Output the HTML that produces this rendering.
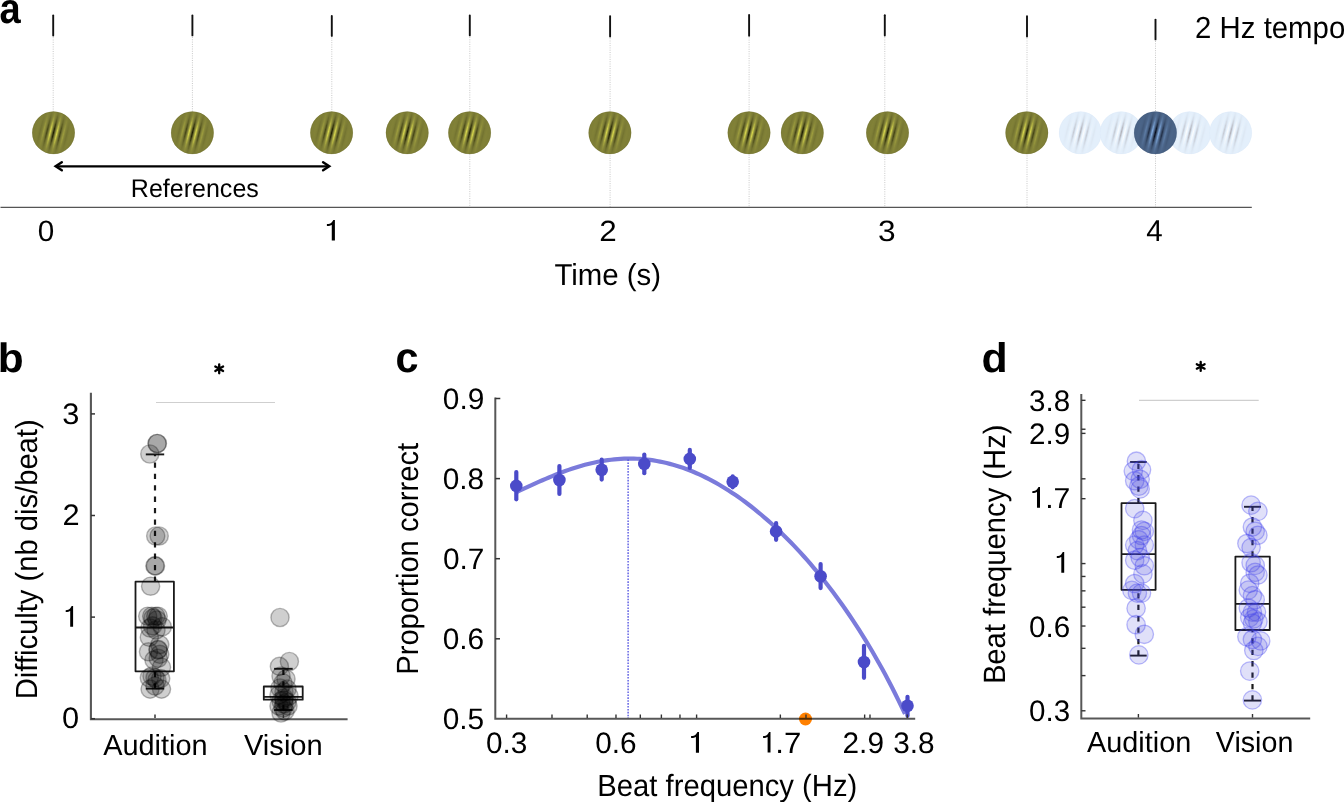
<!DOCTYPE html>
<html><head><meta charset="utf-8"><title>Figure</title>
<style>
html,body{margin:0;padding:0;background:#fff;}
body{width:1344px;height:802px;overflow:hidden;}
svg{display:block;font-family:"Liberation Sans", sans-serif;}
text{opacity:0.999;text-rendering:geometricPrecision;}
</style></head>
<body>
<svg width="1344" height="802" viewBox="0 0 1344 802">
<rect width="1344" height="802" fill="#fff"/>

<defs>
 <linearGradient id="stO" gradientUnits="userSpaceOnUse" x1="0" y1="0" x2="6.7" y2="0" spreadMethod="repeat" gradientTransform="rotate(14)">
  <stop offset="0" stop-color="#1a1a00"/><stop offset="0.25" stop-color="#808038"/><stop offset="0.5" stop-color="#e6e650"/><stop offset="0.75" stop-color="#808038"/><stop offset="1" stop-color="#1a1a00"/>
 </linearGradient>
 <linearGradient id="stB" gradientUnits="userSpaceOnUse" x1="0" y1="0" x2="6.7" y2="0" spreadMethod="repeat" gradientTransform="rotate(14)">
  <stop offset="0" stop-color="#050a18"/><stop offset="0.25" stop-color="#4b6487"/><stop offset="0.5" stop-color="#8ab8f0"/><stop offset="0.75" stop-color="#4b6487"/><stop offset="1" stop-color="#050a18"/>
 </linearGradient>
 <linearGradient id="stL" gradientUnits="userSpaceOnUse" x1="0" y1="0" x2="6.7" y2="0" spreadMethod="repeat" gradientTransform="rotate(14)">
  <stop offset="0" stop-color="#b0b0b8"/><stop offset="0.25" stop-color="#e2eefa"/><stop offset="0.5" stop-color="#ffffff"/><stop offset="0.75" stop-color="#e2eefa"/><stop offset="1" stop-color="#b0b0b8"/>
 </linearGradient>
 <radialGradient id="env" cx="0" cy="0" r="19" gradientUnits="userSpaceOnUse" gradientTransform="rotate(14) scale(1,1.4)">
  <stop offset="0" stop-color="#fff" stop-opacity="1"/><stop offset="0.167" stop-color="#fff" stop-opacity="0.88"/><stop offset="0.333" stop-color="#fff" stop-opacity="0.61"/><stop offset="0.5" stop-color="#fff" stop-opacity="0.32"/><stop offset="0.667" stop-color="#fff" stop-opacity="0.135"/><stop offset="0.833" stop-color="#fff" stop-opacity="0.044"/><stop offset="1" stop-color="#fff" stop-opacity="0"/>
 </radialGradient>
 <mask id="envm" maskContentUnits="userSpaceOnUse" x="-25" y="-25" width="50" height="50" maskUnits="userSpaceOnUse">
  <circle cx="0" cy="0" r="21.3" fill="url(#env)"/>
 </mask>
</defs>

<text transform="translate(-0.52,22.58) scale(0.8876,1)" font-size="42.89" font-weight="bold" fill="#000">a</text>
<line x1="53.20" y1="15.50" x2="53.20" y2="35.60" stroke="#111" stroke-width="1.9" stroke-linecap="round"/>
<line x1="53.20" y1="37.20" x2="53.20" y2="111.50" stroke="#c8c8c8" stroke-width="1" stroke-dasharray="1 1.3"/>
<line x1="192.40" y1="15.40" x2="192.40" y2="35.40" stroke="#111" stroke-width="1.9" stroke-linecap="round"/>
<line x1="192.40" y1="37.00" x2="192.40" y2="111.50" stroke="#c8c8c8" stroke-width="1" stroke-dasharray="1 1.3"/>
<line x1="331.80" y1="16.00" x2="331.80" y2="35.90" stroke="#111" stroke-width="1.9" stroke-linecap="round"/>
<line x1="331.80" y1="37.50" x2="331.80" y2="111.50" stroke="#c8c8c8" stroke-width="1" stroke-dasharray="1 1.3"/>
<line x1="469.80" y1="15.40" x2="469.80" y2="35.40" stroke="#111" stroke-width="1.9" stroke-linecap="round"/>
<line x1="469.80" y1="37.00" x2="469.80" y2="207.00" stroke="#c8c8c8" stroke-width="1" stroke-dasharray="1 1.3"/>
<line x1="610.10" y1="16.10" x2="610.10" y2="36.60" stroke="#111" stroke-width="1.9" stroke-linecap="round"/>
<line x1="610.10" y1="38.20" x2="610.10" y2="207.00" stroke="#c8c8c8" stroke-width="1" stroke-dasharray="1 1.3"/>
<line x1="749.10" y1="14.90" x2="749.10" y2="35.70" stroke="#111" stroke-width="1.9" stroke-linecap="round"/>
<line x1="749.10" y1="37.30" x2="749.10" y2="207.00" stroke="#c8c8c8" stroke-width="1" stroke-dasharray="1 1.3"/>
<line x1="884.80" y1="15.30" x2="884.80" y2="35.60" stroke="#111" stroke-width="1.9" stroke-linecap="round"/>
<line x1="884.80" y1="37.20" x2="884.80" y2="207.00" stroke="#c8c8c8" stroke-width="1" stroke-dasharray="1 1.3"/>
<line x1="1027.00" y1="16.30" x2="1027.00" y2="36.60" stroke="#111" stroke-width="1.9" stroke-linecap="round"/>
<line x1="1027.00" y1="38.20" x2="1027.00" y2="207.00" stroke="#c8c8c8" stroke-width="1" stroke-dasharray="1 1.3"/>
<line x1="1155.50" y1="19.60" x2="1155.50" y2="39.40" stroke="#111" stroke-width="1.9" stroke-linecap="round"/>
<line x1="1155.50" y1="41.00" x2="1155.50" y2="207.00" stroke="#c8c8c8" stroke-width="1" stroke-dasharray="1 1.3"/>
<g transform="translate(53.50,132.80)"><circle r="21.3" fill="#7f7f37"/><circle r="21.3" fill="url(#stO)" mask="url(#envm)"/><circle r="21.0" fill="none" stroke="#6c6c2c" stroke-width="0.6" stroke-opacity="0.5"/></g>
<g transform="translate(192.40,132.80)"><circle r="21.3" fill="#7f7f37"/><circle r="21.3" fill="url(#stO)" mask="url(#envm)"/><circle r="21.0" fill="none" stroke="#6c6c2c" stroke-width="0.6" stroke-opacity="0.5"/></g>
<g transform="translate(331.60,132.80)"><circle r="21.3" fill="#7f7f37"/><circle r="21.3" fill="url(#stO)" mask="url(#envm)"/><circle r="21.0" fill="none" stroke="#6c6c2c" stroke-width="0.6" stroke-opacity="0.5"/></g>
<g transform="translate(407.20,132.80)"><circle r="21.3" fill="#7f7f37"/><circle r="21.3" fill="url(#stO)" mask="url(#envm)"/><circle r="21.0" fill="none" stroke="#6c6c2c" stroke-width="0.6" stroke-opacity="0.5"/></g>
<g transform="translate(469.60,132.80)"><circle r="21.3" fill="#7f7f37"/><circle r="21.3" fill="url(#stO)" mask="url(#envm)"/><circle r="21.0" fill="none" stroke="#6c6c2c" stroke-width="0.6" stroke-opacity="0.5"/></g>
<g transform="translate(609.90,132.80)"><circle r="21.3" fill="#7f7f37"/><circle r="21.3" fill="url(#stO)" mask="url(#envm)"/><circle r="21.0" fill="none" stroke="#6c6c2c" stroke-width="0.6" stroke-opacity="0.5"/></g>
<g transform="translate(749.00,132.80)"><circle r="21.3" fill="#7f7f37"/><circle r="21.3" fill="url(#stO)" mask="url(#envm)"/><circle r="21.0" fill="none" stroke="#6c6c2c" stroke-width="0.6" stroke-opacity="0.5"/></g>
<g transform="translate(802.30,132.80)"><circle r="21.3" fill="#7f7f37"/><circle r="21.3" fill="url(#stO)" mask="url(#envm)"/><circle r="21.0" fill="none" stroke="#6c6c2c" stroke-width="0.6" stroke-opacity="0.5"/></g>
<g transform="translate(887.50,132.80)"><circle r="21.3" fill="#7f7f37"/><circle r="21.3" fill="url(#stO)" mask="url(#envm)"/><circle r="21.0" fill="none" stroke="#6c6c2c" stroke-width="0.6" stroke-opacity="0.5"/></g>
<g transform="translate(1026.80,132.80)"><circle r="21.3" fill="#7f7f37"/><circle r="21.3" fill="url(#stO)" mask="url(#envm)"/><circle r="21.0" fill="none" stroke="#6c6c2c" stroke-width="0.6" stroke-opacity="0.5"/></g>
<g transform="translate(1080.30,132.80)"><circle r="21.3" fill="#e3effb"/><circle r="21.3" fill="url(#stL)" mask="url(#envm)"/><circle r="21.0" fill="none" stroke="#dbe9f7" stroke-width="0.6" stroke-opacity="0.5"/></g>
<g transform="translate(1121.20,132.80)"><circle r="21.3" fill="#e3effb"/><circle r="21.3" fill="url(#stL)" mask="url(#envm)"/><circle r="21.0" fill="none" stroke="#dbe9f7" stroke-width="0.6" stroke-opacity="0.5"/></g>
<g transform="translate(1189.70,132.80)"><circle r="21.3" fill="#e3effb"/><circle r="21.3" fill="url(#stL)" mask="url(#envm)"/><circle r="21.0" fill="none" stroke="#dbe9f7" stroke-width="0.6" stroke-opacity="0.5"/></g>
<g transform="translate(1230.60,132.80)"><circle r="21.3" fill="#e3effb"/><circle r="21.3" fill="url(#stL)" mask="url(#envm)"/><circle r="21.0" fill="none" stroke="#dbe9f7" stroke-width="0.6" stroke-opacity="0.5"/></g>
<g transform="translate(1155.40,132.80)"><circle r="21.3" fill="#4a6386"/><circle r="21.3" fill="url(#stB)" mask="url(#envm)"/><circle r="21.0" fill="none" stroke="#3d5476" stroke-width="0.6" stroke-opacity="0.5"/></g>
<path d="M56,166.3 L329,166.3" stroke="#000" stroke-width="2.2"/>
<path d="M61.8,162.3 L55.7,166.3 L61.8,170.3" stroke="#000" stroke-width="2.5" fill="none" stroke-linecap="round" stroke-linejoin="miter" stroke-miterlimit="10"/>
<path d="M323.1,162.3 L329.2,166.3 L323.1,170.3" stroke="#000" stroke-width="2.5" fill="none" stroke-linecap="round" stroke-linejoin="miter" stroke-miterlimit="10"/>
<text transform="translate(130.85,196.75) scale(0.9813,1)" font-size="25.50" fill="#000">References</text>
<line x1="0.50" y1="207.40" x2="1251.80" y2="207.40" stroke="#555" stroke-width="1.4" />
<text transform="translate(37.84,240.51) scale(1.0111,1)" font-size="29.38" fill="#000">0</text>
<path transform="translate(326.90,220.00) scale(1.0430,0.9903)" d="M6.2,0 L7.67,0 L7.67,20.7 L4.67,20.7 L4.67,5.0 C3.9,5.5 2.2,5.95 0,5.98 L0,4.1 C2.0,4.0 3.5,3.5 4.5,2.4 C5.2,1.6 5.7,0.8 6.2,0 Z" fill="#000"/>
<text transform="translate(599.32,240.50) scale(1.0691,1)" font-size="29.36" fill="#000">2</text>
<text transform="translate(878.00,240.61) scale(1.0718,1)" font-size="29.52" fill="#000">3</text>
<text transform="translate(1146.32,240.50) scale(0.9780,1)" font-size="30.23" fill="#000">4</text>
<text transform="translate(554.44,285.43) scale(0.9704,1)" font-size="30.27" fill="#000">Time (s)</text>
<text transform="translate(1195.12,38.40) scale(0.9620,1)" font-size="30.52" fill="#000">2 Hz tempo</text>
<text transform="translate(-2.25,371.60) scale(1.0327,1)" font-size="41.12" font-weight="bold" fill="#000">b</text>
<line x1="156.00" y1="402.50" x2="275.00" y2="402.50" stroke="#cfcfcf" stroke-width="1.2" />
<path d="M219.20,364.30L219.20,373.30M215.30,366.55L223.10,371.05M223.10,366.55L215.30,371.05" stroke="#000" stroke-width="2.3" stroke-linecap="round" fill="none"/>
<path transform="translate(65.70,606.10) scale(0.9648,0.9952)" d="M6.2,0 L7.67,0 L7.67,20.7 L4.67,20.7 L4.67,5.0 C3.9,5.5 2.2,5.95 0,5.98 L0,4.1 C2.0,4.0 3.5,3.5 4.5,2.4 C5.2,1.6 5.7,0.8 6.2,0 Z" fill="#000"/>
<text transform="translate(62.23,423.54) scale(1.0400,1)" font-size="29.60" fill="#000">3</text>
<text transform="translate(62.43,525.28) scale(1.0400,1)" font-size="29.60" fill="#000">2</text>
<text transform="translate(62.08,728.34) scale(1.0400,1)" font-size="29.60" fill="#000">0</text>
<text transform="translate(37.20,699.19) rotate(-90) scale(0.9555,1)" font-size="30.52" fill="#000">Difficulty (nb dis/beat)</text>
<text transform="translate(103.14,754.50) scale(0.9971,1)" font-size="28.98" fill="#000">Audition</text>
<text transform="translate(243.97,754.50) scale(1.0049,1)" font-size="28.98" fill="#000">Vision</text>
<line x1="155.00" y1="581.70" x2="155.00" y2="454.40" stroke="#1a1a1a" stroke-width="2.2" stroke-dasharray="5.3 6.1"/>
<line x1="155.00" y1="688.60" x2="155.00" y2="671.30" stroke="#1a1a1a" stroke-width="2.2" stroke-dasharray="5.3 6.1"/>
<line x1="145.80" y1="454.40" x2="164.20" y2="454.40" stroke="#1a1a1a" stroke-width="1.9" />
<line x1="145.80" y1="688.60" x2="164.20" y2="688.60" stroke="#1a1a1a" stroke-width="1.9" />
<rect x="135.50" y="581.70" width="38.40" height="89.60" fill="none" stroke="#1a1a1a" stroke-width="1.8" stroke-linejoin="round"/>
<line x1="135.50" y1="627.50" x2="173.90" y2="627.50" stroke="#1a1a1a" stroke-width="1.8" />
<line x1="283.40" y1="686.50" x2="283.40" y2="668.80" stroke="#1a1a1a" stroke-width="2.2" stroke-dasharray="5.3 6.1"/>
<line x1="283.40" y1="710.00" x2="283.40" y2="699.70" stroke="#1a1a1a" stroke-width="2.2" stroke-dasharray="5.3 6.1"/>
<line x1="274.10" y1="668.80" x2="292.70" y2="668.80" stroke="#1a1a1a" stroke-width="1.9" />
<line x1="274.10" y1="710.00" x2="292.70" y2="710.00" stroke="#1a1a1a" stroke-width="1.9" />
<rect x="263.80" y="686.50" width="38.90" height="13.20" fill="none" stroke="#1a1a1a" stroke-width="1.8" stroke-linejoin="round"/>
<line x1="263.80" y1="696.90" x2="302.70" y2="696.90" stroke="#1a1a1a" stroke-width="1.8" />
<circle cx="157.4" cy="443.5" r="9.1" fill="#000" fill-opacity="0.19" stroke="#000" stroke-opacity="0.28" stroke-width="1.4"/>
<circle cx="149.8" cy="454.0" r="9.1" fill="#000" fill-opacity="0.19" stroke="#000" stroke-opacity="0.28" stroke-width="1.4"/>
<circle cx="155.7" cy="536.0" r="9.1" fill="#000" fill-opacity="0.19" stroke="#000" stroke-opacity="0.28" stroke-width="1.4"/>
<circle cx="159.2" cy="536.0" r="9.1" fill="#000" fill-opacity="0.19" stroke="#000" stroke-opacity="0.28" stroke-width="1.4"/>
<circle cx="154.9" cy="565.9" r="9.1" fill="#000" fill-opacity="0.19" stroke="#000" stroke-opacity="0.28" stroke-width="1.4"/>
<circle cx="155.5" cy="565.9" r="9.1" fill="#000" fill-opacity="0.19" stroke="#000" stroke-opacity="0.28" stroke-width="1.4"/>
<circle cx="150.6" cy="586.2" r="9.1" fill="#000" fill-opacity="0.19" stroke="#000" stroke-opacity="0.28" stroke-width="1.4"/>
<circle cx="147.7" cy="616.2" r="9.1" fill="#000" fill-opacity="0.19" stroke="#000" stroke-opacity="0.28" stroke-width="1.4"/>
<circle cx="151.7" cy="616.2" r="9.1" fill="#000" fill-opacity="0.19" stroke="#000" stroke-opacity="0.28" stroke-width="1.4"/>
<circle cx="155.8" cy="616.2" r="9.1" fill="#000" fill-opacity="0.19" stroke="#000" stroke-opacity="0.28" stroke-width="1.4"/>
<circle cx="158.2" cy="616.2" r="9.1" fill="#000" fill-opacity="0.19" stroke="#000" stroke-opacity="0.28" stroke-width="1.4"/>
<circle cx="152.6" cy="625.9" r="9.1" fill="#000" fill-opacity="0.19" stroke="#000" stroke-opacity="0.28" stroke-width="1.4"/>
<circle cx="162.3" cy="626.7" r="9.1" fill="#000" fill-opacity="0.19" stroke="#000" stroke-opacity="0.28" stroke-width="1.4"/>
<circle cx="149.3" cy="637.3" r="9.1" fill="#000" fill-opacity="0.19" stroke="#000" stroke-opacity="0.28" stroke-width="1.4"/>
<circle cx="159.8" cy="644.6" r="9.1" fill="#000" fill-opacity="0.19" stroke="#000" stroke-opacity="0.28" stroke-width="1.4"/>
<circle cx="148.5" cy="651.8" r="9.1" fill="#000" fill-opacity="0.19" stroke="#000" stroke-opacity="0.28" stroke-width="1.4"/>
<circle cx="158.2" cy="649.4" r="9.1" fill="#000" fill-opacity="0.19" stroke="#000" stroke-opacity="0.28" stroke-width="1.4"/>
<circle cx="159.8" cy="654.3" r="9.1" fill="#000" fill-opacity="0.19" stroke="#000" stroke-opacity="0.28" stroke-width="1.4"/>
<circle cx="158.2" cy="658.3" r="9.1" fill="#000" fill-opacity="0.19" stroke="#000" stroke-opacity="0.28" stroke-width="1.4"/>
<circle cx="161.5" cy="667.2" r="9.1" fill="#000" fill-opacity="0.19" stroke="#000" stroke-opacity="0.28" stroke-width="1.4"/>
<circle cx="149.3" cy="677.8" r="9.1" fill="#000" fill-opacity="0.19" stroke="#000" stroke-opacity="0.28" stroke-width="1.4"/>
<circle cx="155.0" cy="677.8" r="9.1" fill="#000" fill-opacity="0.19" stroke="#000" stroke-opacity="0.28" stroke-width="1.4"/>
<circle cx="160.7" cy="678.6" r="9.1" fill="#000" fill-opacity="0.19" stroke="#000" stroke-opacity="0.28" stroke-width="1.4"/>
<circle cx="150.1" cy="689.1" r="9.1" fill="#000" fill-opacity="0.19" stroke="#000" stroke-opacity="0.28" stroke-width="1.4"/>
<circle cx="161.5" cy="689.1" r="9.1" fill="#000" fill-opacity="0.19" stroke="#000" stroke-opacity="0.28" stroke-width="1.4"/>
<circle cx="153" cy="618" r="9.1" fill="#000" fill-opacity="0.19" stroke="#000" stroke-opacity="0.28" stroke-width="1.4"/>
<circle cx="157" cy="620" r="9.1" fill="#000" fill-opacity="0.19" stroke="#000" stroke-opacity="0.28" stroke-width="1.4"/>
<circle cx="150" cy="628" r="9.1" fill="#000" fill-opacity="0.19" stroke="#000" stroke-opacity="0.28" stroke-width="1.4"/>
<circle cx="156" cy="630" r="9.1" fill="#000" fill-opacity="0.19" stroke="#000" stroke-opacity="0.28" stroke-width="1.4"/>
<circle cx="158" cy="650" r="9.1" fill="#000" fill-opacity="0.19" stroke="#000" stroke-opacity="0.28" stroke-width="1.4"/>
<circle cx="154" cy="660" r="9.1" fill="#000" fill-opacity="0.19" stroke="#000" stroke-opacity="0.28" stroke-width="1.4"/>
<circle cx="152" cy="676" r="9.1" fill="#000" fill-opacity="0.19" stroke="#000" stroke-opacity="0.28" stroke-width="1.4"/>
<circle cx="157" cy="680" r="9.1" fill="#000" fill-opacity="0.19" stroke="#000" stroke-opacity="0.28" stroke-width="1.4"/>
<circle cx="155" cy="686" r="9.1" fill="#000" fill-opacity="0.19" stroke="#000" stroke-opacity="0.28" stroke-width="1.4"/>
<circle cx="157.0" cy="443.5" r="9.1" fill="#000" fill-opacity="0.19" stroke="#000" stroke-opacity="0.28" stroke-width="1.4"/>
<circle cx="280" cy="617.5" r="9.1" fill="#000" fill-opacity="0.19" stroke="#000" stroke-opacity="0.28" stroke-width="1.4"/>
<circle cx="289.4" cy="661.5" r="9.1" fill="#000" fill-opacity="0.19" stroke="#000" stroke-opacity="0.28" stroke-width="1.4"/>
<circle cx="279.4" cy="666.4" r="9.1" fill="#000" fill-opacity="0.19" stroke="#000" stroke-opacity="0.28" stroke-width="1.4"/>
<circle cx="281" cy="676" r="9.1" fill="#000" fill-opacity="0.19" stroke="#000" stroke-opacity="0.28" stroke-width="1.4"/>
<circle cx="286" cy="679" r="9.1" fill="#000" fill-opacity="0.19" stroke="#000" stroke-opacity="0.28" stroke-width="1.4"/>
<circle cx="283" cy="683" r="9.1" fill="#000" fill-opacity="0.19" stroke="#000" stroke-opacity="0.28" stroke-width="1.4"/>
<circle cx="280" cy="688" r="9.1" fill="#000" fill-opacity="0.19" stroke="#000" stroke-opacity="0.28" stroke-width="1.4"/>
<circle cx="287" cy="689" r="9.1" fill="#000" fill-opacity="0.19" stroke="#000" stroke-opacity="0.28" stroke-width="1.4"/>
<circle cx="284" cy="692" r="9.1" fill="#000" fill-opacity="0.19" stroke="#000" stroke-opacity="0.28" stroke-width="1.4"/>
<circle cx="279" cy="695" r="9.1" fill="#000" fill-opacity="0.19" stroke="#000" stroke-opacity="0.28" stroke-width="1.4"/>
<circle cx="289" cy="696" r="9.1" fill="#000" fill-opacity="0.19" stroke="#000" stroke-opacity="0.28" stroke-width="1.4"/>
<circle cx="284" cy="698" r="9.1" fill="#000" fill-opacity="0.19" stroke="#000" stroke-opacity="0.28" stroke-width="1.4"/>
<circle cx="281" cy="701" r="9.1" fill="#000" fill-opacity="0.19" stroke="#000" stroke-opacity="0.28" stroke-width="1.4"/>
<circle cx="287" cy="702" r="9.1" fill="#000" fill-opacity="0.19" stroke="#000" stroke-opacity="0.28" stroke-width="1.4"/>
<circle cx="284" cy="704" r="9.1" fill="#000" fill-opacity="0.19" stroke="#000" stroke-opacity="0.28" stroke-width="1.4"/>
<circle cx="279" cy="706" r="9.1" fill="#000" fill-opacity="0.19" stroke="#000" stroke-opacity="0.28" stroke-width="1.4"/>
<circle cx="288" cy="706" r="9.1" fill="#000" fill-opacity="0.19" stroke="#000" stroke-opacity="0.28" stroke-width="1.4"/>
<circle cx="283" cy="708" r="9.1" fill="#000" fill-opacity="0.19" stroke="#000" stroke-opacity="0.28" stroke-width="1.4"/>
<circle cx="285" cy="711" r="9.1" fill="#000" fill-opacity="0.19" stroke="#000" stroke-opacity="0.28" stroke-width="1.4"/>
<circle cx="281" cy="713" r="9.1" fill="#000" fill-opacity="0.19" stroke="#000" stroke-opacity="0.28" stroke-width="1.4"/>
<circle cx="284" cy="700" r="9.1" fill="#000" fill-opacity="0.19" stroke="#000" stroke-opacity="0.28" stroke-width="1.4"/>
<path d="M90.90,392.80 L90.90,719.20 L347.60,719.20" fill="none" stroke="#000" stroke-opacity="0.66" stroke-width="2.1" stroke-linejoin="miter"/>
<line x1="91.00" y1="413.90" x2="95.00" y2="413.90" stroke="#333" stroke-width="1.5" />
<line x1="91.00" y1="515.50" x2="95.00" y2="515.50" stroke="#333" stroke-width="1.5" />
<line x1="91.00" y1="617.10" x2="95.00" y2="617.10" stroke="#333" stroke-width="1.5" />
<line x1="91.00" y1="718.70" x2="95.00" y2="718.70" stroke="#333" stroke-width="1.5" />
<line x1="155.00" y1="718.00" x2="155.00" y2="714.50" stroke="#333" stroke-width="1.5" />
<line x1="283.40" y1="718.00" x2="283.40" y2="714.50" stroke="#333" stroke-width="1.5" />
<text transform="translate(395.38,371.78) scale(0.9737,1)" font-size="42.53" font-weight="bold" fill="#000">c</text>
<text transform="translate(442.83,409.09) scale(1.0080,1)" font-size="29.60" fill="#000">0.9</text>
<text transform="translate(442.72,489.19) scale(1.0080,1)" font-size="29.60" fill="#000">0.8</text>
<text transform="translate(442.92,569.29) scale(1.0080,1)" font-size="29.60" fill="#000">0.7</text>
<text transform="translate(442.73,649.39) scale(1.0080,1)" font-size="29.60" fill="#000">0.6</text>
<text transform="translate(442.67,729.49) scale(1.0080,1)" font-size="29.60" fill="#000">0.5</text>
<text transform="translate(417.70,674.79) rotate(-90) scale(0.9518,1)" font-size="30.67" fill="#000">Proportion correct</text>
<text transform="translate(485.99,752.50) scale(1.0054,1)" font-size="29.60" fill="#000">0.3</text>
<text transform="translate(595.19,752.50) scale(1.0054,1)" font-size="29.60" fill="#000">0.6</text>
<text transform="translate(842.57,752.50) scale(1.0054,1)" font-size="29.60" fill="#000">2.9</text>
<text transform="translate(893.19,752.50) scale(1.0054,1)" font-size="29.60" fill="#000">3.8</text>
<path transform="translate(691.10,732.00) scale(1.0300,1.0000)" d="M6.2,0 L7.67,0 L7.67,20.7 L4.67,20.7 L4.67,5.0 C3.9,5.5 2.2,5.95 0,5.98 L0,4.1 C2.0,4.0 3.5,3.5 4.5,2.4 C5.2,1.6 5.7,0.8 6.2,0 Z" fill="#000"/>
<path transform="translate(763.10,732.00) scale(0.9648,0.9903)" d="M6.2,0 L7.67,0 L7.67,20.7 L4.67,20.7 L4.67,5.0 C3.9,5.5 2.2,5.95 0,5.98 L0,4.1 C2.0,4.0 3.5,3.5 4.5,2.4 C5.2,1.6 5.7,0.8 6.2,0 Z" fill="#000"/>
<text transform="translate(775.25,752.50) scale(1.0573,1)" font-size="29.51" fill="#000">.7</text>
<text transform="translate(597.30,795.50) scale(0.9538,1)" font-size="30.67" fill="#000">Beat frequency (Hz)</text>
<clipPath id="cclip"><rect x="495" y="380" width="430" height="338.9"/></clipPath>
<path d="M516.30,492.23 L519.57,490.71 L522.83,489.18 L526.10,487.66 L529.37,486.14 L532.63,484.64 L535.90,483.16 L539.16,481.69 L542.43,480.25 L545.70,478.83 L548.96,477.45 L552.23,476.09 L555.50,474.77 L558.76,473.49 L562.03,472.24 L565.30,471.04 L568.56,469.89 L571.83,468.78 L575.09,467.71 L578.36,466.70 L581.63,465.75 L584.89,464.84 L588.16,463.99 L591.43,463.20 L594.69,462.47 L597.96,461.80 L601.23,461.19 L604.49,460.64 L607.76,460.15 L611.03,459.73 L614.29,459.38 L617.56,459.09 L620.82,458.87 L624.09,458.71 L627.36,458.62 L630.62,458.60 L633.89,458.65 L637.16,458.77 L640.42,458.96 L643.69,459.22 L646.96,459.55 L650.22,459.95 L653.49,460.42 L656.75,460.96 L660.02,461.58 L663.29,462.26 L666.55,463.01 L669.82,463.84 L673.09,464.73 L676.35,465.69 L679.62,466.73 L682.89,467.83 L686.15,469.01 L689.42,470.25 L692.68,471.56 L695.95,472.95 L699.22,474.40 L702.48,475.92 L705.75,477.51 L709.02,479.16 L712.28,480.89 L715.55,482.68 L718.82,484.54 L722.08,486.46 L725.35,488.45 L728.62,490.51 L731.88,492.64 L735.15,494.83 L738.41,497.09 L741.68,499.41 L744.95,501.80 L748.21,504.26 L751.48,506.78 L754.75,509.37 L758.01,512.02 L761.28,514.74 L764.55,517.53 L767.81,520.38 L771.08,523.30 L774.34,526.29 L777.61,529.34 L780.88,532.46 L784.14,535.65 L787.41,538.91 L790.68,542.24 L793.94,545.64 L797.21,549.11 L800.48,552.65 L803.74,556.26 L807.01,559.95 L810.27,563.71 L813.54,567.55 L816.81,571.46 L820.07,575.45 L823.34,579.53 L826.61,583.68 L829.87,587.92 L833.14,592.24 L836.41,596.65 L839.67,601.15 L842.94,605.74 L846.21,610.43 L849.47,615.20 L852.74,620.08 L856.00,625.06 L859.27,630.14 L862.54,635.32 L865.80,640.62 L869.07,646.03 L872.34,651.55 L875.60,657.19 L878.87,662.95 L882.14,668.84 L885.40,674.86 L888.67,681.02 L891.93,687.31 L895.20,693.74 L898.47,700.32 L901.73,707.05 L905.00,713.94" stroke="#7b7bdb" stroke-width="4.2" fill="none" clip-path="url(#cclip)"/>
<line x1="628.10" y1="459.50" x2="628.10" y2="718.00" stroke="#4a4ae0" stroke-width="1.3" stroke-dasharray="1.6 1.3"/>
<line x1="516.30" y1="472.00" x2="516.30" y2="499.30" stroke="#4b4bc9" stroke-width="4.2" stroke-linecap="round"/>
<circle cx="516.30" cy="485.90" r="6.30" fill="#4b4bc9" />
<line x1="559.40" y1="466.00" x2="559.40" y2="494.00" stroke="#4b4bc9" stroke-width="4.2" stroke-linecap="round"/>
<circle cx="559.40" cy="480.00" r="6.30" fill="#4b4bc9" />
<line x1="601.70" y1="459.70" x2="601.70" y2="479.60" stroke="#4b4bc9" stroke-width="4.2" stroke-linecap="round"/>
<circle cx="601.70" cy="469.70" r="6.30" fill="#4b4bc9" />
<line x1="644.30" y1="454.60" x2="644.30" y2="473.20" stroke="#4b4bc9" stroke-width="4.2" stroke-linecap="round"/>
<circle cx="644.30" cy="463.90" r="6.30" fill="#4b4bc9" />
<line x1="689.80" y1="449.90" x2="689.80" y2="467.90" stroke="#4b4bc9" stroke-width="4.2" stroke-linecap="round"/>
<circle cx="689.80" cy="458.90" r="6.30" fill="#4b4bc9" />
<line x1="732.70" y1="476.30" x2="732.70" y2="487.30" stroke="#4b4bc9" stroke-width="4.2" stroke-linecap="round"/>
<circle cx="732.70" cy="481.80" r="6.30" fill="#4b4bc9" />
<line x1="776.10" y1="523.00" x2="776.10" y2="539.80" stroke="#4b4bc9" stroke-width="4.2" stroke-linecap="round"/>
<circle cx="776.10" cy="531.40" r="6.30" fill="#4b4bc9" />
<line x1="820.60" y1="564.10" x2="820.60" y2="588.10" stroke="#4b4bc9" stroke-width="4.2" stroke-linecap="round"/>
<circle cx="820.60" cy="576.20" r="6.30" fill="#4b4bc9" />
<line x1="864.00" y1="645.80" x2="864.00" y2="677.80" stroke="#4b4bc9" stroke-width="4.2" stroke-linecap="round"/>
<circle cx="864.00" cy="662.00" r="6.30" fill="#4b4bc9" />
<line x1="907.50" y1="696.80" x2="907.50" y2="715.80" stroke="#4b4bc9" stroke-width="4.2" stroke-linecap="round"/>
<circle cx="907.50" cy="705.80" r="6.30" fill="#4b4bc9" />
<circle cx="805.50" cy="719.00" r="6.50" fill="#ff8000" />
<path d="M495.30,397.60 L495.30,718.80 L915.20,718.80" fill="none" stroke="#000" stroke-opacity="0.66" stroke-width="2.0" stroke-linejoin="miter"/>
<line x1="495.30" y1="398.50" x2="500.30" y2="398.50" stroke="#333" stroke-width="1.5" />
<line x1="495.30" y1="478.60" x2="500.00" y2="478.60" stroke="#333" stroke-width="1.5" />
<line x1="495.30" y1="558.70" x2="500.00" y2="558.70" stroke="#333" stroke-width="1.5" />
<line x1="495.30" y1="638.80" x2="500.00" y2="638.80" stroke="#333" stroke-width="1.5" />
<line x1="506.59" y1="718.00" x2="506.59" y2="714.50" stroke="#333" stroke-width="1.4" />
<line x1="551.99" y1="718.00" x2="551.99" y2="714.50" stroke="#333" stroke-width="1.4" />
<line x1="587.21" y1="718.00" x2="587.21" y2="714.50" stroke="#333" stroke-width="1.4" />
<line x1="615.98" y1="718.00" x2="615.98" y2="714.50" stroke="#333" stroke-width="1.4" />
<line x1="640.31" y1="718.00" x2="640.31" y2="714.50" stroke="#333" stroke-width="1.4" />
<line x1="661.38" y1="718.00" x2="661.38" y2="714.50" stroke="#333" stroke-width="1.4" />
<line x1="679.97" y1="718.00" x2="679.97" y2="714.50" stroke="#333" stroke-width="1.4" />
<line x1="696.60" y1="718.00" x2="696.60" y2="714.50" stroke="#333" stroke-width="1.4" />
<line x1="780.35" y1="718.00" x2="780.35" y2="714.50" stroke="#333" stroke-width="1.4" />
<line x1="805.99" y1="718.00" x2="805.99" y2="714.50" stroke="#333" stroke-width="1.4" />
<line x1="864.64" y1="718.00" x2="864.64" y2="714.50" stroke="#333" stroke-width="1.4" />
<line x1="869.99" y1="718.00" x2="869.99" y2="714.50" stroke="#333" stroke-width="1.4" />
<line x1="907.29" y1="718.00" x2="907.29" y2="714.50" stroke="#333" stroke-width="1.4" />
<text transform="translate(981.54,371.70) scale(1.0355,1)" font-size="41.40" font-weight="bold" fill="#000">d</text>
<line x1="1139.00" y1="400.40" x2="1258.70" y2="400.40" stroke="#cfcfcf" stroke-width="1.2" />
<path d="M1200.70,361.90L1200.70,370.90M1196.80,364.15L1204.60,368.65M1204.60,364.15L1196.80,368.65" stroke="#000" stroke-width="2.3" stroke-linecap="round" fill="none"/>
<path transform="translate(1056.80,552.00) scale(0.9648,1.0000)" d="M6.2,0 L7.67,0 L7.67,20.7 L4.67,20.7 L4.67,5.0 C3.9,5.5 2.2,5.95 0,5.98 L0,4.1 C2.0,4.0 3.5,3.5 4.5,2.4 C5.2,1.6 5.7,0.8 6.2,0 Z" fill="#000"/>
<path transform="translate(1032.30,487.10) scale(1.0039,1.0000)" d="M6.2,0 L7.67,0 L7.67,20.7 L4.67,20.7 L4.67,5.0 C3.9,5.5 2.2,5.95 0,5.98 L0,4.1 C2.0,4.0 3.5,3.5 4.5,2.4 C5.2,1.6 5.7,0.8 6.2,0 Z" fill="#000"/>
<text transform="translate(1045.24,507.80) scale(1.0489,1)" font-size="28.78" fill="#000">.7</text>
<text transform="translate(1028.97,410.82) scale(0.9991,1)" font-size="29.60" fill="#000">3.8</text>
<text transform="translate(1029.09,443.87) scale(0.9991,1)" font-size="29.60" fill="#000">2.9</text>
<text transform="translate(1028.99,636.52) scale(0.9991,1)" font-size="29.60" fill="#000">0.6</text>
<text transform="translate(1028.99,721.28) scale(0.9991,1)" font-size="29.60" fill="#000">0.3</text>
<text transform="translate(1004.80,684.10) rotate(-90) scale(0.9478,1)" font-size="30.81" fill="#000">Beat frequency (Hz)</text>
<text transform="translate(1087.04,751.80) scale(0.9952,1)" font-size="28.98" fill="#000">Audition</text>
<text transform="translate(1215.87,751.80) scale(0.9880,1)" font-size="28.98" fill="#000">Vision</text>
<line x1="1138.40" y1="503.20" x2="1138.40" y2="462.00" stroke="#1a1a1a" stroke-width="2.2" stroke-dasharray="5.3 6.1"/>
<line x1="1138.40" y1="655.60" x2="1138.40" y2="589.80" stroke="#1a1a1a" stroke-width="2.2" stroke-dasharray="5.3 6.1"/>
<line x1="1130.10" y1="462.00" x2="1146.70" y2="462.00" stroke="#1a1a1a" stroke-width="1.9" />
<line x1="1130.10" y1="655.60" x2="1146.70" y2="655.60" stroke="#1a1a1a" stroke-width="1.9" />
<rect x="1121.50" y="503.20" width="34.10" height="86.60" fill="none" stroke="#1a1a1a" stroke-width="1.8" stroke-linejoin="round"/>
<line x1="1121.50" y1="554.20" x2="1155.60" y2="554.20" stroke="#1a1a1a" stroke-width="1.8" />
<line x1="1252.50" y1="556.60" x2="1252.50" y2="506.80" stroke="#1a1a1a" stroke-width="2.2" stroke-dasharray="5.3 6.1"/>
<line x1="1252.50" y1="700.60" x2="1252.50" y2="630.00" stroke="#1a1a1a" stroke-width="2.2" stroke-dasharray="5.3 6.1"/>
<line x1="1244.00" y1="506.80" x2="1261.00" y2="506.80" stroke="#1a1a1a" stroke-width="1.9" />
<line x1="1244.00" y1="700.60" x2="1261.00" y2="700.60" stroke="#1a1a1a" stroke-width="1.9" />
<rect x="1235.40" y="556.60" width="34.40" height="73.40" fill="none" stroke="#1a1a1a" stroke-width="1.8" stroke-linejoin="round"/>
<line x1="1235.40" y1="603.90" x2="1269.80" y2="603.90" stroke="#1a1a1a" stroke-width="1.8" />
<circle cx="1136.4" cy="461.2" r="9.2" fill="#4646dc" fill-opacity="0.17" stroke="#3c3cf0" stroke-opacity="0.35" stroke-width="1.3"/>
<circle cx="1133.3" cy="471.1" r="9.2" fill="#4646dc" fill-opacity="0.17" stroke="#3c3cf0" stroke-opacity="0.35" stroke-width="1.3"/>
<circle cx="1141.5" cy="469.7" r="9.2" fill="#4646dc" fill-opacity="0.17" stroke="#3c3cf0" stroke-opacity="0.35" stroke-width="1.3"/>
<circle cx="1134.7" cy="480.7" r="9.2" fill="#4646dc" fill-opacity="0.17" stroke="#3c3cf0" stroke-opacity="0.35" stroke-width="1.3"/>
<circle cx="1140.2" cy="479.3" r="9.2" fill="#4646dc" fill-opacity="0.17" stroke="#3c3cf0" stroke-opacity="0.35" stroke-width="1.3"/>
<circle cx="1138.8" cy="486.2" r="9.2" fill="#4646dc" fill-opacity="0.17" stroke="#3c3cf0" stroke-opacity="0.35" stroke-width="1.3"/>
<circle cx="1140.2" cy="488.9" r="9.2" fill="#4646dc" fill-opacity="0.17" stroke="#3c3cf0" stroke-opacity="0.35" stroke-width="1.3"/>
<circle cx="1134.7" cy="508.6" r="9.2" fill="#4646dc" fill-opacity="0.17" stroke="#3c3cf0" stroke-opacity="0.35" stroke-width="1.3"/>
<circle cx="1142.9" cy="520.4" r="9.2" fill="#4646dc" fill-opacity="0.17" stroke="#3c3cf0" stroke-opacity="0.35" stroke-width="1.3"/>
<circle cx="1141.5" cy="530" r="9.2" fill="#4646dc" fill-opacity="0.17" stroke="#3c3cf0" stroke-opacity="0.35" stroke-width="1.3"/>
<circle cx="1144.3" cy="531.4" r="9.2" fill="#4646dc" fill-opacity="0.17" stroke="#3c3cf0" stroke-opacity="0.35" stroke-width="1.3"/>
<circle cx="1141.5" cy="535.5" r="9.2" fill="#4646dc" fill-opacity="0.17" stroke="#3c3cf0" stroke-opacity="0.35" stroke-width="1.3"/>
<circle cx="1138.8" cy="539.7" r="9.2" fill="#4646dc" fill-opacity="0.17" stroke="#3c3cf0" stroke-opacity="0.35" stroke-width="1.3"/>
<circle cx="1134.7" cy="545.1" r="9.2" fill="#4646dc" fill-opacity="0.17" stroke="#3c3cf0" stroke-opacity="0.35" stroke-width="1.3"/>
<circle cx="1144.3" cy="545.1" r="9.2" fill="#4646dc" fill-opacity="0.17" stroke="#3c3cf0" stroke-opacity="0.35" stroke-width="1.3"/>
<circle cx="1137.4" cy="550.6" r="9.2" fill="#4646dc" fill-opacity="0.17" stroke="#3c3cf0" stroke-opacity="0.35" stroke-width="1.3"/>
<circle cx="1134.7" cy="560.2" r="9.2" fill="#4646dc" fill-opacity="0.17" stroke="#3c3cf0" stroke-opacity="0.35" stroke-width="1.3"/>
<circle cx="1140.2" cy="557.5" r="9.2" fill="#4646dc" fill-opacity="0.17" stroke="#3c3cf0" stroke-opacity="0.35" stroke-width="1.3"/>
<circle cx="1144.3" cy="565.7" r="9.2" fill="#4646dc" fill-opacity="0.17" stroke="#3c3cf0" stroke-opacity="0.35" stroke-width="1.3"/>
<circle cx="1142.9" cy="573.9" r="9.2" fill="#4646dc" fill-opacity="0.17" stroke="#3c3cf0" stroke-opacity="0.35" stroke-width="1.3"/>
<circle cx="1134.7" cy="583.5" r="9.2" fill="#4646dc" fill-opacity="0.17" stroke="#3c3cf0" stroke-opacity="0.35" stroke-width="1.3"/>
<circle cx="1131.9" cy="590.4" r="9.2" fill="#4646dc" fill-opacity="0.17" stroke="#3c3cf0" stroke-opacity="0.35" stroke-width="1.3"/>
<circle cx="1137.4" cy="593.1" r="9.2" fill="#4646dc" fill-opacity="0.17" stroke="#3c3cf0" stroke-opacity="0.35" stroke-width="1.3"/>
<circle cx="1141.5" cy="593.1" r="9.2" fill="#4646dc" fill-opacity="0.17" stroke="#3c3cf0" stroke-opacity="0.35" stroke-width="1.3"/>
<circle cx="1136.1" cy="608.2" r="9.2" fill="#4646dc" fill-opacity="0.17" stroke="#3c3cf0" stroke-opacity="0.35" stroke-width="1.3"/>
<circle cx="1136.1" cy="624.7" r="9.2" fill="#4646dc" fill-opacity="0.17" stroke="#3c3cf0" stroke-opacity="0.35" stroke-width="1.3"/>
<circle cx="1144.3" cy="634.3" r="9.2" fill="#4646dc" fill-opacity="0.17" stroke="#3c3cf0" stroke-opacity="0.35" stroke-width="1.3"/>
<circle cx="1138.8" cy="654.9" r="9.2" fill="#4646dc" fill-opacity="0.17" stroke="#3c3cf0" stroke-opacity="0.35" stroke-width="1.3"/>
<circle cx="1251.1" cy="505.1" r="9.2" fill="#4646dc" fill-opacity="0.17" stroke="#3c3cf0" stroke-opacity="0.35" stroke-width="1.3"/>
<circle cx="1257.9" cy="511.4" r="9.2" fill="#4646dc" fill-opacity="0.17" stroke="#3c3cf0" stroke-opacity="0.35" stroke-width="1.3"/>
<circle cx="1252.4" cy="527" r="9.2" fill="#4646dc" fill-opacity="0.17" stroke="#3c3cf0" stroke-opacity="0.35" stroke-width="1.3"/>
<circle cx="1255.2" cy="531.2" r="9.2" fill="#4646dc" fill-opacity="0.17" stroke="#3c3cf0" stroke-opacity="0.35" stroke-width="1.3"/>
<circle cx="1257.9" cy="535.3" r="9.2" fill="#4646dc" fill-opacity="0.17" stroke="#3c3cf0" stroke-opacity="0.35" stroke-width="1.3"/>
<circle cx="1246.9" cy="543.5" r="9.2" fill="#4646dc" fill-opacity="0.17" stroke="#3c3cf0" stroke-opacity="0.35" stroke-width="1.3"/>
<circle cx="1251.1" cy="547.6" r="9.2" fill="#4646dc" fill-opacity="0.17" stroke="#3c3cf0" stroke-opacity="0.35" stroke-width="1.3"/>
<circle cx="1251.1" cy="562.7" r="9.2" fill="#4646dc" fill-opacity="0.17" stroke="#3c3cf0" stroke-opacity="0.35" stroke-width="1.3"/>
<circle cx="1255.2" cy="565.4" r="9.2" fill="#4646dc" fill-opacity="0.17" stroke="#3c3cf0" stroke-opacity="0.35" stroke-width="1.3"/>
<circle cx="1255.2" cy="572.3" r="9.2" fill="#4646dc" fill-opacity="0.17" stroke="#3c3cf0" stroke-opacity="0.35" stroke-width="1.3"/>
<circle cx="1257.9" cy="575" r="9.2" fill="#4646dc" fill-opacity="0.17" stroke="#3c3cf0" stroke-opacity="0.35" stroke-width="1.3"/>
<circle cx="1249.7" cy="583.3" r="9.2" fill="#4646dc" fill-opacity="0.17" stroke="#3c3cf0" stroke-opacity="0.35" stroke-width="1.3"/>
<circle cx="1248.3" cy="590.1" r="9.2" fill="#4646dc" fill-opacity="0.17" stroke="#3c3cf0" stroke-opacity="0.35" stroke-width="1.3"/>
<circle cx="1252.4" cy="595.6" r="9.2" fill="#4646dc" fill-opacity="0.17" stroke="#3c3cf0" stroke-opacity="0.35" stroke-width="1.3"/>
<circle cx="1255.2" cy="599.7" r="9.2" fill="#4646dc" fill-opacity="0.17" stroke="#3c3cf0" stroke-opacity="0.35" stroke-width="1.3"/>
<circle cx="1248.3" cy="608" r="9.2" fill="#4646dc" fill-opacity="0.17" stroke="#3c3cf0" stroke-opacity="0.35" stroke-width="1.3"/>
<circle cx="1252.4" cy="612.1" r="9.2" fill="#4646dc" fill-opacity="0.17" stroke="#3c3cf0" stroke-opacity="0.35" stroke-width="1.3"/>
<circle cx="1256.5" cy="612.1" r="9.2" fill="#4646dc" fill-opacity="0.17" stroke="#3c3cf0" stroke-opacity="0.35" stroke-width="1.3"/>
<circle cx="1249.7" cy="617.6" r="9.2" fill="#4646dc" fill-opacity="0.17" stroke="#3c3cf0" stroke-opacity="0.35" stroke-width="1.3"/>
<circle cx="1253.8" cy="618.9" r="9.2" fill="#4646dc" fill-opacity="0.17" stroke="#3c3cf0" stroke-opacity="0.35" stroke-width="1.3"/>
<circle cx="1257.9" cy="621.7" r="9.2" fill="#4646dc" fill-opacity="0.17" stroke="#3c3cf0" stroke-opacity="0.35" stroke-width="1.3"/>
<circle cx="1252.4" cy="623.1" r="9.2" fill="#4646dc" fill-opacity="0.17" stroke="#3c3cf0" stroke-opacity="0.35" stroke-width="1.3"/>
<circle cx="1246.9" cy="636.8" r="9.2" fill="#4646dc" fill-opacity="0.17" stroke="#3c3cf0" stroke-opacity="0.35" stroke-width="1.3"/>
<circle cx="1252.4" cy="639.5" r="9.2" fill="#4646dc" fill-opacity="0.17" stroke="#3c3cf0" stroke-opacity="0.35" stroke-width="1.3"/>
<circle cx="1260.7" cy="640.9" r="9.2" fill="#4646dc" fill-opacity="0.17" stroke="#3c3cf0" stroke-opacity="0.35" stroke-width="1.3"/>
<circle cx="1257.9" cy="646.4" r="9.2" fill="#4646dc" fill-opacity="0.17" stroke="#3c3cf0" stroke-opacity="0.35" stroke-width="1.3"/>
<circle cx="1253.8" cy="650.5" r="9.2" fill="#4646dc" fill-opacity="0.17" stroke="#3c3cf0" stroke-opacity="0.35" stroke-width="1.3"/>
<circle cx="1249.7" cy="671.1" r="9.2" fill="#4646dc" fill-opacity="0.17" stroke="#3c3cf0" stroke-opacity="0.35" stroke-width="1.3"/>
<circle cx="1252.4" cy="699.9" r="9.2" fill="#4646dc" fill-opacity="0.17" stroke="#3c3cf0" stroke-opacity="0.35" stroke-width="1.3"/>
<path d="M1081.30,393.90 L1081.30,718.40 L1310.20,718.40" fill="none" stroke="#000" stroke-opacity="0.66" stroke-width="2.0" stroke-linejoin="miter"/>
<line x1="1081.30" y1="400.33" x2="1085.50" y2="400.33" stroke="#333" stroke-width="1.4" />
<line x1="1081.30" y1="429.23" x2="1085.50" y2="429.23" stroke="#333" stroke-width="1.4" />
<line x1="1081.30" y1="433.38" x2="1085.50" y2="433.38" stroke="#333" stroke-width="1.4" />
<line x1="1081.30" y1="478.81" x2="1085.50" y2="478.81" stroke="#333" stroke-width="1.4" />
<line x1="1081.30" y1="498.68" x2="1085.50" y2="498.68" stroke="#333" stroke-width="1.4" />
<line x1="1081.30" y1="563.57" x2="1085.50" y2="563.57" stroke="#333" stroke-width="1.4" />
<line x1="1081.30" y1="576.45" x2="1085.50" y2="576.45" stroke="#333" stroke-width="1.4" />
<line x1="1081.30" y1="590.86" x2="1085.50" y2="590.86" stroke="#333" stroke-width="1.4" />
<line x1="1081.30" y1="607.18" x2="1085.50" y2="607.18" stroke="#333" stroke-width="1.4" />
<line x1="1081.30" y1="626.03" x2="1085.50" y2="626.03" stroke="#333" stroke-width="1.4" />
<line x1="1081.30" y1="648.33" x2="1085.50" y2="648.33" stroke="#333" stroke-width="1.4" />
<line x1="1081.30" y1="675.61" x2="1085.50" y2="675.61" stroke="#333" stroke-width="1.4" />
<line x1="1081.30" y1="710.79" x2="1085.50" y2="710.79" stroke="#333" stroke-width="1.4" />
<line x1="1138.40" y1="717.60" x2="1138.40" y2="714.00" stroke="#333" stroke-width="1.4" />
<line x1="1252.50" y1="717.60" x2="1252.50" y2="714.00" stroke="#333" stroke-width="1.4" />
</svg>
</body></html>
